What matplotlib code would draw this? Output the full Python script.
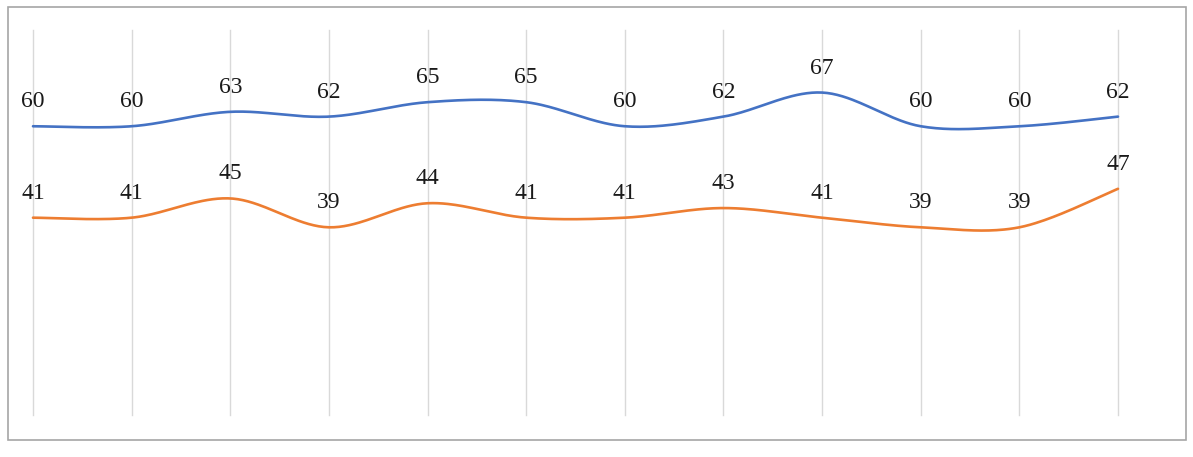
import numpy as np
import matplotlib.pyplot as plt
from matplotlib.patches import Rectangle

# ------------- dados -------------------
categorias = list(range(12))
serie_azul = [60, 60, 63, 62, 65, 65, 60, 62, 67, 60, 60, 62]
serie_laranja = [41, 41, 45, 39, 44, 41, 41, 43, 41, 39, 39, 47]

cor_azul = "#4472C4"
cor_laranja = "#ED7D31"


# curva suavizada estilo Excel (bezier com tangentes catmull-rom)
def suavizar(x, y, n=40):
    x = np.asarray(x, float)
    y = np.asarray(y, float)
    px = np.concatenate([[x[0]], x, [x[-1]]])
    py = np.concatenate([[y[0]], y, [y[-1]]])
    xs, ys = [], []
    t = np.linspace(0, 1, n)
    for i in range(1, len(px) - 2):
        p0 = np.array([px[i], py[i]])
        p3 = np.array([px[i + 1], py[i + 1]])
        p1 = p0 + (p3 - np.array([px[i - 1], py[i - 1]])) / 6
        p2 = p3 - (np.array([px[i + 2], py[i + 2]]) - p0) / 6
        b = ((1 - t) ** 3)[:, None] * p0 + (3 * (1 - t) ** 2 * t)[:, None] * p1 \
            + (3 * (1 - t) * t ** 2)[:, None] * p2 + (t ** 3)[:, None] * p3
        xs.append(b[:, 0])
        ys.append(b[:, 1])
    return np.concatenate(xs), np.concatenate(ys)


fig = plt.figure(figsize=(11.93, 4.57), dpi=100)
W, H = 1193, 457

# moldura externa
fig.patches.append(Rectangle((8 / W, 1 - 440 / H), (1186 - 8) / W, (440 - 7) / H,
                             transform=fig.transFigure, fill=False,
                             edgecolor="#a6a6a6", linewidth=1.2))

ax = fig.add_axes([33 / W, 1 - 415 / H, (1118 - 33) / W, (415 - 30) / H])
ax.set_xlim(0, 11)
ax.set_ylim(0, 80)

for xc in categorias:
    ax.axvline(xc, color="#d9d9d9", linewidth=1, zorder=0, clip_on=False)

for serie, cor in [(serie_azul, cor_azul), (serie_laranja, cor_laranja)]:
    xs, ys = suavizar(categorias, serie)
    ax.plot(xs, ys, color=cor, linewidth=1.9, solid_capstyle="round", clip_on=False)
    for xc, v in zip(categorias, serie):
        ax.annotate(str(v), (xc, v), xytext=(0, 19), textcoords="offset pixels",
                    ha="center", va="baseline", fontsize=17,
                    family="Liberation Serif", color="#1a1a1a")

for s in ax.spines.values():
    s.set_visible(False)
ax.set_xticks([])
ax.set_yticks([])
ax.patch.set_alpha(0)

fig.savefig("out.png", dpi=100)
